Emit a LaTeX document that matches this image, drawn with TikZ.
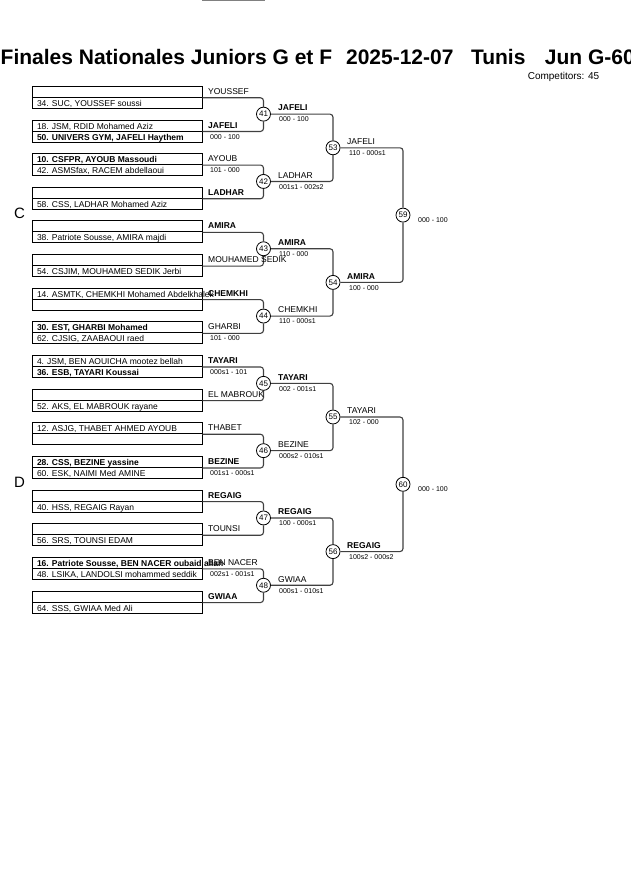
\documentclass[tikz,border=0pt]{standalone}
\usepackage{fontspec}
\setmainfont{Liberation Sans}
\newcommand{\entrant}[1]{\makebox[160pt][l]{#1}}
\begin{document}
\begin{tikzpicture}[x=1pt,y=-1pt,
  seat/.style={draw, line width=0.9pt, minimum width=170pt, minimum height=11pt, inner xsep=5pt, inner ysep=0pt, text height=8pt, text depth=1pt, font=\fontsize{8.5}{10}\selectfont},
  who/.style={anchor=base west, inner sep=0pt, font=\fontsize{8.5}{10}\selectfont},
  pts/.style={anchor=north west, inner sep=0pt, font=\fontsize{7}{8}\selectfont},
  bout/.style={circle, draw, fill=white, line width=0.8pt, minimum size=14pt, inner sep=0pt, font=\fontsize{8}{9}\selectfont},
  wire/.style={draw=black!75, line width=1.1pt, rounded corners=3pt}]
\useasboundingbox (0,0) rectangle (630,891);
\fill[gray] (202,0) rectangle (265,1.2);
\node[anchor=base west, inner sep=0pt, font=\fontsize{21}{24}\selectfont\bfseries] (head) at (0.5,64) {Finales Nationales Juniors G et F\hspace{14pt}2025-12-07\hspace{17.5pt}Tunis\hspace{19.5pt}Jun G-60};
\node[anchor=east, inner sep=0pt, font=\fontsize{10}{12}\selectfont] (count) at (599.5,76.7) {Competitors: 45};
\node[inner sep=0pt, font=\fontsize{15}{17}\selectfont] (poolC) at (19.5,213.3) {C};
\node[inner sep=0pt, font=\fontsize{15}{17}\selectfont] (poolD) at (19.5,482.6) {D};
% first column
\node[seat] (s0a) at (117,91.8) {\entrant{}};
\node[seat] (s0b) at (117,102.8) {\entrant{34. SUC, YOUSSEF soussi}};
\node[seat] (s1a) at (117,125.5) {\entrant{18. JSM, RDID Mohamed Aziz}};
\node[seat] (s1b) at (117,136.5) {\entrant{\textbf{50. UNIVERS GYM, JAFELI Haythem}}};
\node[seat] (s2a) at (117,159.1) {\entrant{\textbf{10. CSFPR, AYOUB Massoudi}}};
\node[seat] (s2b) at (117,170.1) {\entrant{42. ASMSfax, RACEM abdellaoui}};
\node[seat] (s3a) at (117,192.8) {\entrant{}};
\node[seat] (s3b) at (117,203.8) {\entrant{58. CSS, LADHAR Mohamed Aziz}};
\node[seat] (s4a) at (117,226.4) {\entrant{}};
\node[seat] (s4b) at (117,237.4) {\entrant{38. Patriote Sousse, AMIRA majdi}};
\node[seat] (s5a) at (117,260.1) {\entrant{}};
\node[seat] (s5b) at (117,271.1) {\entrant{54. CSJIM, MOUHAMED SEDIK Jerbi}};
\node[seat] (s6a) at (117,293.7) {\entrant{14. ASMTK, CHEMKHI Mohamed Abdelkhalek}};
\node[seat] (s6b) at (117,304.7) {\entrant{}};
\node[seat] (s7a) at (117,327.4) {\entrant{\textbf{30. EST, GHARBI Mohamed}}};
\node[seat] (s7b) at (117,338.4) {\entrant{62. CJSIG, ZAABAOUI raed}};
\node[seat] (s8a) at (117,361.0) {\entrant{4. JSM, BEN AOUICHA mootez bellah}};
\node[seat] (s8b) at (117,372.0) {\entrant{\textbf{36. ESB, TAYARI Koussai}}};
\node[seat] (s9a) at (117,394.7) {\entrant{}};
\node[seat] (s9b) at (117,405.7) {\entrant{52. AKS, EL MABROUK rayane}};
\node[seat] (s10a) at (117,428.3) {\entrant{12. ASJG, THABET AHMED AYOUB}};
\node[seat] (s10b) at (117,439.3) {\entrant{}};
\node[seat] (s11a) at (117,462.0) {\entrant{\textbf{28. CSS, BEZINE yassine}}};
\node[seat] (s11b) at (117,473.0) {\entrant{60. ESK, NAIMI Med AMINE}};
\node[seat] (s12a) at (117,495.6) {\entrant{}};
\node[seat] (s12b) at (117,506.6) {\entrant{40. HSS, REGAIG Rayan}};
\node[seat] (s13a) at (117,529.3) {\entrant{}};
\node[seat] (s13b) at (117,540.3) {\entrant{56. SRS, TOUNSI EDAM}};
\node[seat] (s14a) at (117,562.9) {\entrant{\textbf{16. Patriote Sousse, BEN NACER oubaid allah}}};
\node[seat] (s14b) at (117,573.9) {\entrant{48. LSIKA, LANDOLSI mohammed seddik}};
\node[seat] (s15a) at (117,596.6) {\entrant{}};
\node[seat] (s15b) at (117,607.6) {\entrant{64. SSS, GWIAA Med Ali}};
% bouts
\node[bout] (m41) at (263.5,114.15) {41};
\node[bout] (m42) at (263.5,181.45) {42};
\node[bout] (m43) at (263.5,248.75) {43};
\node[bout] (m44) at (263.5,316.05) {44};
\node[bout] (m45) at (263.5,383.35) {45};
\node[bout] (m46) at (263.5,450.65) {46};
\node[bout] (m47) at (263.5,517.95) {47};
\node[bout] (m48) at (263.5,585.25) {48};
\node[bout] (m53) at (333,147.8) {53};
\node[bout] (m54) at (333,282.4) {54};
\node[bout] (m55) at (333,417.0) {55};
\node[bout] (m56) at (333,551.6) {56};
\node[bout] (m59) at (403,215.1) {59};
\node[bout] (m60) at (403,484.3) {60};
\draw[wire] (s0a.south east) -| (m41);
\draw[wire] (s1a.south east) -| (m41);
\draw[wire] (s2a.south east) -| (m42);
\draw[wire] (s3a.south east) -| (m42);
\draw[wire] (s4a.south east) -| (m43);
\draw[wire] (s5a.south east) -| (m43);
\draw[wire] (s6a.south east) -| (m44);
\draw[wire] (s7a.south east) -| (m44);
\draw[wire] (s8a.south east) -| (m45);
\draw[wire] (s9a.south east) -| (m45);
\draw[wire] (s10a.south east) -| (m46);
\draw[wire] (s11a.south east) -| (m46);
\draw[wire] (s12a.south east) -| (m47);
\draw[wire] (s13a.south east) -| (m47);
\draw[wire] (s14a.south east) -| (m48);
\draw[wire] (s15a.south east) -| (m48);
\draw[wire] (m41) -| (m53);
\draw[wire] (m42) -| (m53);
\draw[wire] (m43) -| (m54);
\draw[wire] (m44) -| (m54);
\draw[wire] (m45) -| (m55);
\draw[wire] (m46) -| (m55);
\draw[wire] (m47) -| (m56);
\draw[wire] (m48) -| (m56);
\draw[wire] (m53) -| (m59);
\draw[wire] (m54) -| (m59);
\draw[wire] (m55) -| (m60);
\draw[wire] (m56) -| (m60);
% names and scores
\node[who] (n0) at (208,94.3) {YOUSSEF};
\node[who] (n1) at (208,128.0) {\textbf{JAFELI}};
\node[pts] (r1) at (210,134.0) {000 - 100};
\node[who] (n2) at (208,161.6) {AYOUB};
\node[pts] (r2) at (210,167.6) {101 - 000};
\node[who] (n3) at (208,195.3) {\textbf{LADHAR}};
\node[who] (n4) at (208,228.9) {\textbf{AMIRA}};
\node[who] (n5) at (208,262.6) {MOUHAMED SEDIK};
\node[who] (n6) at (208,296.2) {\textbf{CHEMKHI}};
\node[who] (n7) at (208,329.9) {GHARBI};
\node[pts] (r7) at (210,335.9) {101 - 000};
\node[who] (n8) at (208,363.5) {\textbf{TAYARI}};
\node[pts] (r8) at (210,369.5) {000s1 - 101};
\node[who] (n9) at (208,397.2) {EL MABROUK};
\node[who] (n10) at (208,430.8) {THABET};
\node[who] (n11) at (208,464.5) {\textbf{BEZINE}};
\node[pts] (r11) at (210,470.5) {001s1 - 000s1};
\node[who] (n12) at (208,498.1) {\textbf{REGAIG}};
\node[who] (n13) at (208,531.8) {TOUNSI};
\node[who] (n14) at (208,565.4) {BEN NACER};
\node[pts] (r14) at (210,571.4) {002s1 - 001s1};
\node[who] (n15) at (208,599.1) {\textbf{GWIAA}};
\node[who] (n41) at (278,110.9) {\textbf{JAFELI}};
\node[pts] (r41) at (279,116.9) {000 - 100};
\node[who] (n42) at (278,178.2) {LADHAR};
\node[pts] (r42) at (279,184.2) {001s1 - 002s2};
\node[who] (n43) at (278,245.5) {\textbf{AMIRA}};
\node[pts] (r43) at (279,251.5) {110 - 000};
\node[who] (n44) at (278,312.8) {CHEMKHI};
\node[pts] (r44) at (279,318.8) {110 - 000s1};
\node[who] (n45) at (278,380.1) {\textbf{TAYARI}};
\node[pts] (r45) at (279,386.1) {002 - 001s1};
\node[who] (n46) at (278,447.4) {BEZINE};
\node[pts] (r46) at (279,453.4) {000s2 - 010s1};
\node[who] (n47) at (278,514.7) {\textbf{REGAIG}};
\node[pts] (r47) at (279,520.7) {100 - 000s1};
\node[who] (n48) at (278,582.0) {GWIAA};
\node[pts] (r48) at (279,588.0) {000s1 - 010s1};
\node[who] (n53) at (347,144.5) {JAFELI};
\node[pts] (r53) at (349,150.5) {110 - 000s1};
\node[who] (n54) at (347,279.1) {\textbf{AMIRA}};
\node[pts] (r54) at (349,285.1) {100 - 000};
\node[who] (n55) at (347,413.7) {TAYARI};
\node[pts] (r55) at (349,419.7) {102 - 000};
\node[who] (n56) at (347,548.3) {\textbf{REGAIG}};
\node[pts] (r56) at (349,554.3) {100s2 - 000s2};
\node[pts, anchor=west] (r59) at (418,220.1) {000 - 100};
\node[pts, anchor=west] (r60) at (418,489.3) {000 - 100};
\end{tikzpicture}
\end{document}
